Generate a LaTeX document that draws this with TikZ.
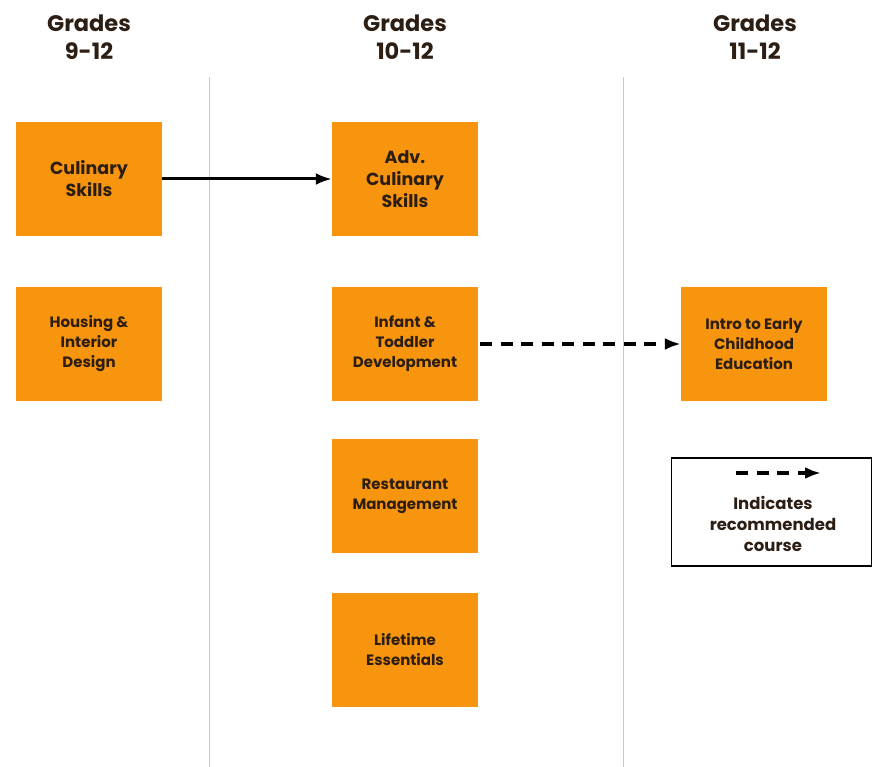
\documentclass[tikz,border=0pt]{standalone}
\usepackage{fontspec}
\setmainfont{Poppins}
\usetikzlibrary{arrows.meta}
\definecolor{boxorange}{RGB}{247,149,14}
\definecolor{txtdark}{RGB}{45,30,20}
\definecolor{sepgray}{RGB}{200,200,200}
\tikzset{
  course/.style={draw=none, fill=boxorange, minimum width=146pt, minimum height=114pt, inner sep=0pt, align=center, text=txtdark, font=\fontsize{15}{20}\selectfont\bfseries},
  bigcourse/.style={course, font=\fontsize{17.5}{22}\selectfont\bfseries},
  heading/.style={align=center, font=\fontsize{22.5}{28}\selectfont\bfseries, text=txtdark},
  sep/.style={draw=sepgray, line width=0.9pt},
  req/.style={-{Latex[length=16pt,width=12pt]}, line width=3pt},
  rec/.style={-{Latex[length=16pt,width=12pt]}, line width=3.2pt, dash pattern=on 12pt off 8.5pt},
}
\begin{document}
\begin{tikzpicture}[x=1pt,y=-1pt]
\useasboundingbox (0,0) rectangle (872,767);
% separators
\coordinate (s1a) at (209,77); \coordinate (s1b) at (209,767);
\coordinate (s2a) at (623,77); \coordinate (s2b) at (623,767);
\draw[sep] (s1a) -- (s1b);
\draw[sep] (s2a) -- (s2b);
% headings
\node[heading] (h1) at (89,37) {Grades\\9-12};
\node[heading] (h2) at (405,37) {Grades\\10-12};
\node[heading] (h3) at (755,37) {Grades\\11-12};
% courses
\node[bigcourse] (cul) at (89,179) {Culinary\\Skills};
\node[course] (hou) at (89,344) {Housing \&\\Interior\\Design};
\node[bigcourse] (adv) at (405,179) {Adv.\\Culinary\\Skills};
\node[course] (inf) at (405,344) {Infant \&\\Toddler\\Development};
\node[course] (res) at (405,496) {Restaurant\\Management};
\node[course] (lif) at (405,650) {Lifetime\\Essentials};
\node[course] (ece) at (754,344) {Intro to Early\\Childhood\\Education};
% arrows
\draw[req] (cul.east) -- (adv.west);
\draw[rec] ([xshift=2pt]inf.east) -- (ece.west);
% legend
\node[draw=black, line width=1.2pt, minimum width=200pt, minimum height=108pt, inner sep=0pt] (leg) at (771.5,512) {};
\coordinate (la) at (736,473);
\coordinate (lb) at (821,473);
\draw[rec] (la) -- (lb);
\node[align=center, text=txtdark, font=\fontsize{16.5}{21}\selectfont\bfseries] (legtxt) at (773,524) {Indicates\\recommended\\course};
\end{tikzpicture}
\end{document}
